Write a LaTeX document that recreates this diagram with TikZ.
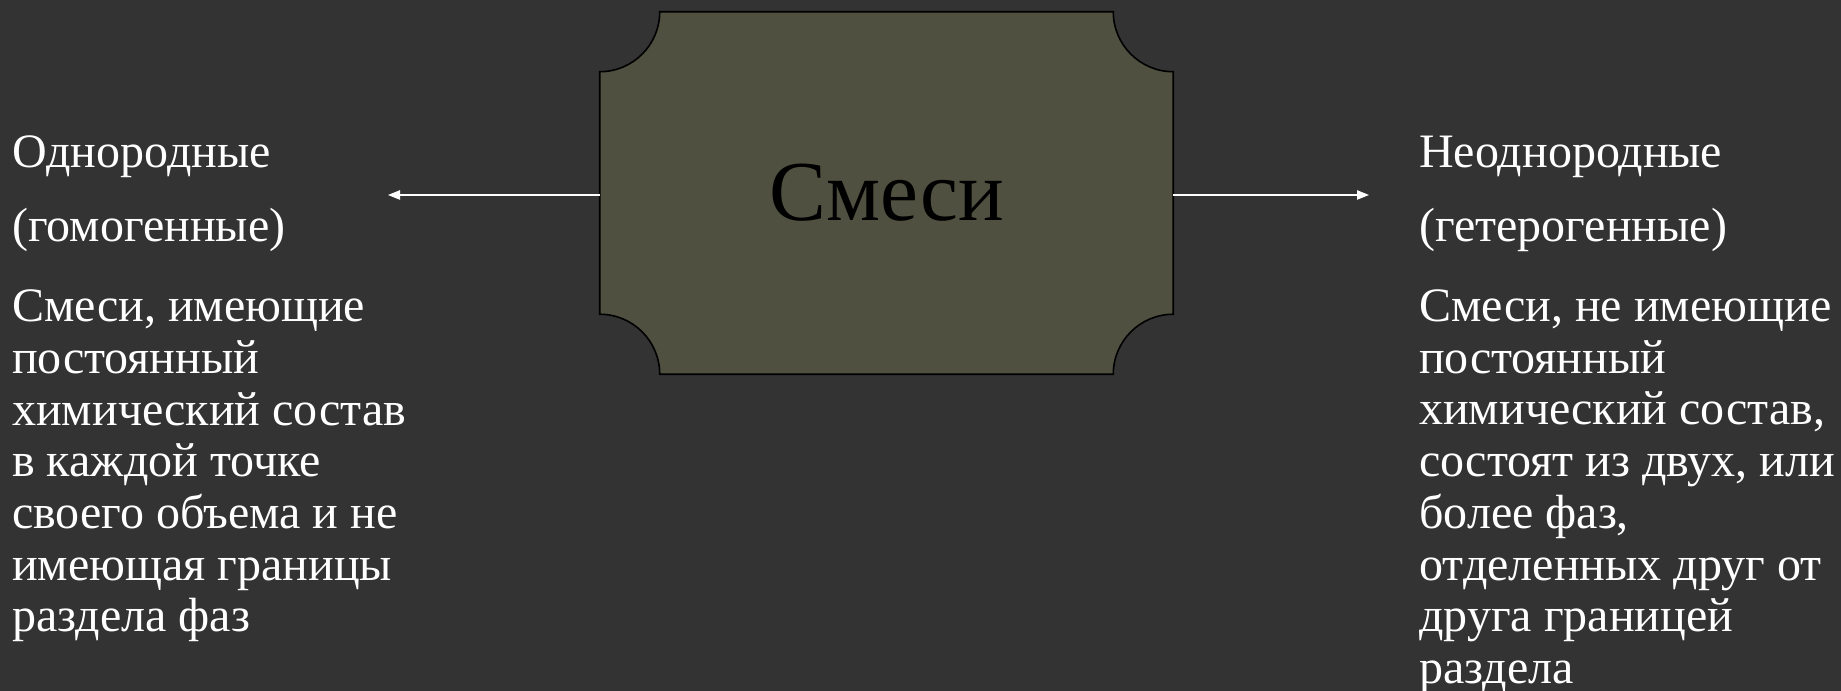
\documentclass[tikz,border=0pt]{standalone}
\usepackage{fontspec}
\setmainfont{Liberation Serif}
\usetikzlibrary{arrows.meta, backgrounds, calc}
\definecolor{slidebg}{HTML}{333333}
\definecolor{mixfill}{HTML}{4F5040}
\definecolor{mixline}{HTML}{000000}
\newcommand{\sidefont}{\fontsize{36}{38.8}\selectfont}
\tikzset{
  mixbox/.style={
    inner sep=0pt,
    minimum width=429.75pt,
    minimum height=271.5pt,
    text=black,
    font=\fontsize{64}{64}\selectfont
  },
  headtext/.style={
    inner sep=0pt,
    anchor=base west,
    text=white,
    font=\sidefont
  },
  desctext/.style={headtext, align=left},
  mixarrow/.style={
    -{Triangle[length=9pt,width=7pt]},
    line width=1pt,
    draw=white
  }
}

\begin{document}
\begin{tikzpicture}[x=0.75pt,y=0.75pt]
\useasboundingbox (0,0) rectangle (1841,691);

\node[mixbox] (mix) at (886.5,498) {Смеси};

% left column: last line of the description sits on its baseline
\node[headtext] (homo) at (12,523) {Однородные};
\node[headtext] (homoalt) at (12,449) {(гомогенные)};
\node[desctext] (homodesc) at (12,59)
  {Смеси, имеющие\\постоянный\\химический состав\\в каждой точке\\своего объема и не\\имеющая границы\\раздела фаз};

% right column
\node[headtext] (hetero) at (1419,523) {Неоднородные};
\node[headtext] (heteroalt) at (1419,449) {(гетерогенные)};
\node[desctext] (heterodesc) at (1419,7.5)
  {Смеси, не имеющие\\постоянный\\химический состав,\\состоят из двух, или\\более фаз,\\отделенных друг от\\друга границей\\раздела};

\coordinate (homotip) at (388,496);
\coordinate (heterotip) at (1369,496);
\draw[mixarrow] (mix.west |- homotip) -- (homotip);
\draw[mixarrow] (mix.east |- heterotip) -- (heterotip);

\begin{scope}[on background layer]
  \fill[slidebg] (0,0) rectangle (1841,691);
  \filldraw[fill=mixfill, draw=mixline, line width=1.2pt]
    ([xshift=45pt]mix.north west) -- ([xshift=-45pt]mix.north east)
    arc[start angle=180, end angle=270, radius=45pt]
    -- ([yshift=45pt]mix.south east)
    arc[start angle=90, end angle=180, radius=45pt]
    -- ([xshift=45pt]mix.south west)
    arc[start angle=0, end angle=90, radius=45pt]
    -- ([yshift=-45pt]mix.north west)
    arc[start angle=270, end angle=360, radius=45pt] -- cycle;
\end{scope}
\end{tikzpicture}
\end{document}
